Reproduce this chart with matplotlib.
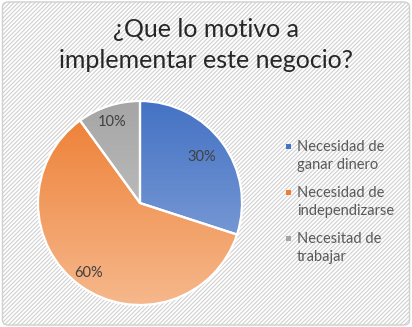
import matplotlib.pyplot as plt
import numpy as np
from matplotlib.colors import LinearSegmentedColormap
from matplotlib.patches import FancyBboxPatch, Rectangle

title_lines = ["¿Que lo motivo a", "implementar este negocio?"]
labels = [["Necesidad de", "ganar dinero"], ["Necesidad de", "independizarse"], ["Necesitad de", "trabajar"]]
values = [30, 60, 10]
# top / bottom colours of each slice gradient
tops = ["#4472C4", "#ED7D31", "#A5A5A5"]
bottoms = ["#8FAADC", "#F6B88C", "#CFCFCF"]

plt.rcParams['font.family'] = ['Lato', 'DejaVu Sans']
plt.rcParams['hatch.color'] = '#e4e4e4'
plt.rcParams['hatch.linewidth'] = 0.8

W, H = 412, 327
fig = plt.figure(figsize=(W / 100, H / 100), dpi=100)
fig.patch.set_facecolor('white')

def fx(px):
    return px / W

def fy(py):
    return 1 - py / H

# striped chart area with rounded border
bg = FancyBboxPatch((0.006, 0.006), 0.988, 0.988, boxstyle="round,pad=0,rounding_size=0.015",
                    transform=fig.transFigure, facecolor='white', edgecolor='#d0d0d0',
                    hatch='////////', linewidth=1.0, zorder=-5)
fig.patches.append(bg)

for line, base in zip(title_lines, [37, 68]):
    fig.text(0.5, fy(base), line, ha='center', va='baseline', fontsize=18, color='#262626')

cx, cy, r = 140, 203, 102
ax = fig.add_axes([fx(cx - r), fy(cy + r), 2 * r / W, 2 * r / H])
ax.patch.set_visible(False)

wedges, _ = ax.pie(values, startangle=90, counterclock=False, radius=1,
                   wedgeprops=dict(facecolor='none', edgecolor='white', linewidth=1.6))
grad = np.linspace(0, 1, 256).reshape(-1, 1)
for w, c0, c1 in zip(wedges, tops, bottoms):
    w.set_zorder(3)
    cmap = LinearSegmentedColormap.from_list('g', [c0, c1])
    im = ax.imshow(grad, extent=[-1, 1, -1, 1], cmap=cmap, aspect='auto', zorder=2, origin='upper')
    im.set_clip_path(w)
ax.set_xlim(-1.0, 1.0)
ax.set_ylim(-1.0, 1.0)
ax.set_aspect('equal')
ax.axis('off')

# percentage labels
lab_pos = [(202, 157), (89, 273), (112, 122)]
for v, (px, py) in zip(values, lab_pos):
    fig.text(fx(px), fy(py), f"{v}%", ha='center', va='center', fontsize=10.5, color='#404040')

# legend
leg_base = [151, 197, 243]
for lab, col, y in zip(labels, tops, leg_base):
    fig.patches.append(Rectangle((fx(286), fy(y - 2)), 5 / W, 5 / H,
                                 transform=fig.transFigure, facecolor=col, edgecolor='none'))
    for i, part in enumerate(lab):
        fig.text(fx(297), fy(y + 18 * i), part, ha='left', va='baseline', fontsize=10.5,
                 color='#595959')

fig.savefig('out.png', dpi=100)
